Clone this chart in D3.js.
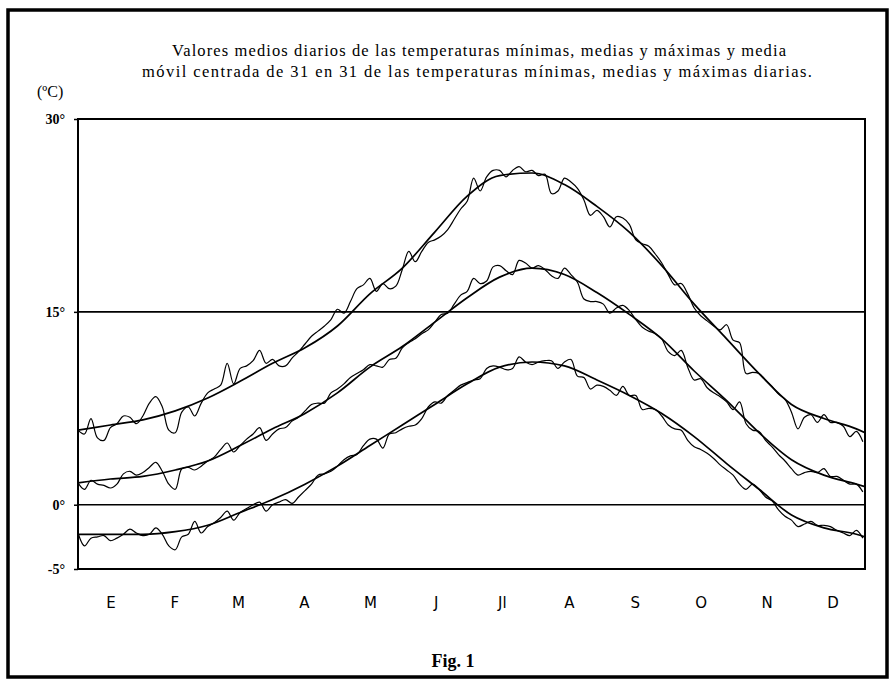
<!DOCTYPE html>
<html><head><meta charset="utf-8">
<script src="https://cdn.jsdelivr.net/npm/d3@7/dist/d3.min.js"></script>
<style>body{margin:0;background:#fff}svg{display:block}</style>
</head><body><svg id="c" width="891" height="679"></svg>
<script>
// ---------- DATA ----------
const titleLines = [
  "Valores medios diarios de las temperaturas mínimas, medias y máximas y media",
  "móvil centrada de 31 en 31 de las temperaturas mínimas, medias y máximas diarias."
];
const unitLabel = "(ºC)";
const figLabel = "Fig. 1";
const months = ["E","F","M","A","M","J","Jl","A","S","O","N","D"];
const monthLengths = [31,28,31,30,31,30,31,31,30,31,30,31];
const yTicks = [30, 15, 0, -5];
const yTickLabels = ["30°", "15°", "0°", "-5°"];
const gridValues = [15, 0];

// daily values, sampled every 3 days starting on day 1
const dailyStep = 3;
const maxDaily = [5.8,5.5,6.7,5.2,5.0,6.0,6.3,6.9,6.8,6.3,6.9,7.9,8.4,7.6,5.8,5.6,7.2,7.6,6.9,7.9,
  8.7,9.0,9.3,11.0,9.4,10.6,10.8,11.2,12.0,11.0,11.3,10.8,10.8,11.4,11.9,12.5,13.1,13.5,13.9,14.4,
  15.2,14.9,15.8,16.8,17.1,17.6,16.6,17.2,16.8,17.0,18.3,19.7,18.9,19.7,20.4,20.6,20.9,21.4,22.2,23.0,
  23.6,25.4,24.4,25.5,26.0,26.0,25.5,26.0,26.3,25.9,26.0,25.6,25.7,24.2,24.4,25.4,25.1,24.6,23.7,22.5,
  22.9,22.4,21.6,22.4,22.3,21.8,20.6,20.3,20.1,19.5,18.8,17.9,17.1,17.2,16.4,15.3,14.7,14.3,13.9,13.6,
  14.0,12.8,12.6,10.2,10.3,10.2,9.7,9.2,8.6,8.2,7.2,5.9,6.8,7.0,6.4,7.0,6.4,6.4,6.1,5.3,5.7,4.9];
const meanDaily = [1.7,1.2,1.9,1.6,1.5,1.3,1.6,2.4,2.6,2.3,2.5,2.9,3.3,2.6,1.6,1.2,2.8,2.9,2.7,3.0,
  3.4,3.7,4.3,4.8,4.1,4.6,5.1,5.5,6.0,5.0,5.5,5.9,6.0,6.5,6.8,7.3,7.8,7.9,7.9,8.7,
  9.0,9.4,9.9,10.2,10.5,10.9,10.8,10.7,11.3,11.4,12.2,12.6,12.9,13.3,13.6,14.2,14.8,14.9,15.6,16.3,
  16.6,17.6,17.2,17.4,18.5,18.6,18.2,17.9,19.0,18.8,18.4,18.6,18.3,17.8,17.6,18.4,17.9,17.3,16.0,15.8,
  15.8,15.6,14.9,15.3,15.5,15.1,14.4,13.8,13.5,13.3,12.9,11.9,11.6,12.0,10.7,9.7,9.8,9.1,8.7,8.4,
  8.0,7.4,8.0,6.3,5.8,5.7,5.0,4.5,3.9,3.4,2.8,2.3,2.5,2.6,2.5,2.8,2.2,2.2,1.9,1.6,1.6,1.0];
const minDaily = [-2.2,-3.2,-2.6,-2.5,-2.4,-2.8,-2.6,-2.3,-1.9,-2.2,-2.4,-2.3,-1.8,-2.3,-3.2,-3.5,-2.5,-2.3,-1.3,-2.2,
  -1.7,-1.4,-1.0,-0.5,-1.2,-0.6,-0.3,0.0,0.2,-0.5,0.0,0.2,0.4,0.1,0.6,1.1,1.6,2.3,2.4,2.6,
  3.0,3.5,3.8,3.9,4.6,5.1,5.1,4.4,5.5,5.6,5.9,6.1,6.2,6.7,7.6,8.0,7.9,8.5,8.9,9.3,
  9.5,9.7,9.8,10.6,10.8,10.7,10.5,10.6,11.5,11.1,10.9,11.1,11.2,11.2,10.6,11.1,11.3,10.0,9.9,9.0,
  9.3,9.2,8.9,8.5,9.2,8.5,8.5,7.4,7.5,7.4,6.9,6.2,5.9,5.8,5.0,4.5,4.3,4.0,3.6,3.1,
  2.7,2.3,1.6,1.2,1.6,1.2,0.6,0.3,-0.4,-0.9,-1.2,-1.7,-1.5,-1.3,-1.6,-1.6,-1.7,-2.0,-2.2,-2.4,-2.0,-2.6];

// centred 31-day moving averages
const smoothDays = [1,16,31,46,61,76,91,106,121,136,151,166,181,196,211,226,241,256,271,286,301,316,331,346,361,365];
const maxSmooth  = [5.8,6.2,6.6,7.3,8.3,9.6,11.0,12.2,13.9,16.4,18.4,21.2,24.0,25.6,25.8,24.9,23.2,21.2,18.6,15.6,12.9,10.2,7.8,6.7,5.9,5.6];
const meanSmooth = [1.7,2.0,2.2,2.7,3.4,4.6,5.9,7.1,8.7,10.7,12.3,14.2,16.1,17.7,18.4,17.9,16.5,14.8,12.9,10.4,8.1,5.6,3.5,2.3,1.6,1.4];
const minSmooth  = [-2.3,-2.3,-2.3,-2.1,-1.6,-0.6,0.4,1.6,3.0,4.6,6.2,7.8,9.4,10.7,11.1,10.8,9.7,8.5,7.1,5.3,3.2,1.2,-0.8,-1.8,-2.3,-2.5];

// ---------- DRAWING ----------
const svg = d3.select("#c");
const W = 891, H = 679;
const plot = {left: 78, right: 865, top: 119, bottom: 569};

const x = d3.scaleLinear().domain([1, 365]).range([plot.left, plot.right]);
const y = d3.scaleLinear().domain([-5, 30]).range([plot.bottom, plot.top]);

svg.append("rect").attr("width", W).attr("height", H).attr("fill", "#fff");

// outer frame
svg.append("rect").attr("x", 8).attr("y", 10).attr("width", 879).attr("height", 667)
  .attr("fill", "none").attr("stroke", "#000").attr("stroke-width", 3.5);

// title
const serif = "'Liberation Serif','Times New Roman',serif";
const tt = svg.append("g").attr("font-family", serif).attr("font-size", 16.5).attr("fill", "#000");
tt.append("text").attr("x", 172).attr("y", 56).attr("textLength", 614).attr("lengthAdjust", "spacing").text(titleLines[0]);
tt.append("text").attr("x", 142).attr("y", 77).attr("textLength", 670).attr("lengthAdjust", "spacing").text(titleLines[1]);

svg.append("text").attr("x", 37).attr("y", 97).attr("font-family", serif).attr("font-size", 16)
  .text(unitLabel);

// gridlines
svg.append("g").selectAll("line").data(gridValues).join("line")
  .attr("x1", plot.left).attr("x2", plot.right)
  .attr("y1", d => y(d)).attr("y2", d => y(d))
  .attr("stroke", "#000").attr("stroke-width", 1.6);

// y axis
const yAxis = d3.axisLeft(y).tickValues(yTicks).tickSize(4)
  .tickFormat(d => yTickLabels[yTicks.indexOf(d)]);
const ya = svg.append("g").attr("transform", `translate(${plot.left},0)`).call(yAxis);
ya.select(".domain").remove();
ya.selectAll("line").attr("stroke", "#000").attr("stroke-width", 1.5);
ya.selectAll("text").attr("font-family", serif).attr("font-weight", "bold").attr("font-size", 14)
  .attr("x", -13).attr("fill", "#000");

// x axis month labels
const monthStart = d3.cumsum([0, ...monthLengths.slice(0, -1)]);
const monthMid = monthLengths.map((n, i) => monthStart[i] + 1 + (n - 1) / 2);
const xAxis = d3.axisBottom(x).tickValues(monthMid).tickSize(0)
  .tickFormat((d, i) => months[i]);
const xa = svg.append("g").attr("transform", `translate(0,${plot.bottom})`).call(xAxis);
xa.select(".domain").remove();
xa.selectAll("text").attr("font-family", "'DejaVu Sans','Liberation Sans',sans-serif")
  .attr("font-size", 15).attr("dy", 0).attr("y", 39).attr("fill", "#000");

// clip
svg.append("clipPath").attr("id", "clip").append("rect")
  .attr("x", plot.left).attr("y", plot.top).attr("width", plot.right - plot.left).attr("height", plot.bottom - plot.top);

const g = svg.append("g").attr("clip-path", "url(#clip)");
const dailyLine = d3.line().x((d, i) => x(1 + i * dailyStep)).y(d => y(d)).curve(d3.curveCatmullRom.alpha(0.5));
[maxDaily, meanDaily, minDaily].forEach(s => {
  g.append("path").datum(s).attr("d", dailyLine)
    .attr("fill", "none").attr("stroke", "#000").attr("stroke-width", 1.2).attr("stroke-linejoin", "round");
});
const smoothLine = d3.line().x((d, i) => x(smoothDays[i])).y(d => y(d)).curve(d3.curveMonotoneX);
[maxSmooth, meanSmooth, minSmooth].forEach(s => {
  g.append("path").datum(s).attr("d", smoothLine)
    .attr("fill", "none").attr("stroke", "#000").attr("stroke-width", 1.7);
});

// plot frame
svg.append("rect").attr("x", plot.left).attr("y", plot.top)
  .attr("width", plot.right - plot.left).attr("height", plot.bottom - plot.top)
  .attr("fill", "none").attr("stroke", "#000").attr("stroke-width", 2);

// figure label
svg.append("text").attr("x", 453).attr("y", 667).attr("text-anchor", "middle")
  .attr("font-family", serif).attr("font-weight", "bold").attr("font-size", 18).text(figLabel);
</script>
</body></html>
